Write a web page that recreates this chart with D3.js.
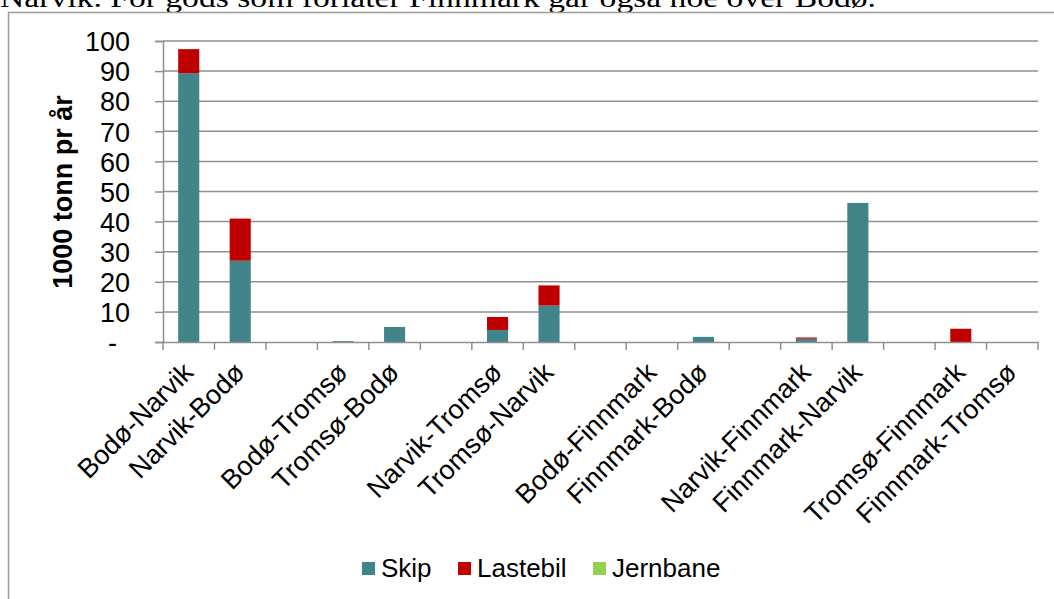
<!DOCTYPE html>
<html>
<head>
<meta charset="utf-8">
<script src="https://cdn.jsdelivr.net/npm/d3@7/dist/d3.min.js"></script>
<style>
  html, body { margin: 0; padding: 0; background: #fff; }
  svg { display: block; }
  text { font-family: "Liberation Sans", Arial, sans-serif; fill: #000; }
</style>
</head>
<body>
<svg id="chart" width="1054" height="599"></svg>
<script>
// ---- data ----
const categories = ["Bodø-Narvik", "Narvik-Bodø", "", "Bodø-Tromsø", "Tromsø-Bodø", "",
  "Narvik-Tromsø", "Tromsø-Narvik", "", "Bodø-Finnmark", "Finnmark-Bodø", "",
  "Narvik-Finnmark", "Finnmark-Narvik", "", "Tromsø-Finnmark", "Finnmark-Tromsø"];
const skip     = [89.3, 27.0, 0, 0.3, 5.0, 0, 4.0, 12.1, 0, 0, 1.7, 0, 1.1, 46.2, 0, 0, 0];
const lastebil = [8.0, 14.0, 0, 0, 0, 0, 4.3, 6.7, 0, 0, 0, 0, 0.4, 0, 0, 4.4, 0];
const jernbane = [0, 0, 0, 0, 0, 0, 0, 0, 0, 0, 0, 0, 0, 0, 0, 0, 0];
const seriesNames = ["Skip", "Lastebil", "Jernbane"];
const seriesColors = ["#418489", "#C00000", "#92D050"];
const yTicks = [0, 10, 20, 30, 40, 50, 60, 70, 80, 90, 100];
const yLabel = "1000 tonn pr år";
const headerText = "Narvik. For gods som forlater Finnmark går også noe over Bodø.";

// ---- layout ----
const svg = d3.select("#chart");
const pLeft = 163, pRight = 1038, pTop = 41, pBottom = 342;
const gridColor = "#8f8f8f";

// header text (cut off at top, as in the source page)
svg.append("text")
  .attr("x", 0).attr("y", 7)
  .attr("textLength", 876).attr("lengthAdjust", "spacingAndGlyphs")
  .style("font-family", "'Liberation Serif', 'DejaVu Serif', serif")
  .style("font-size", "27px")
  .text(headerText);

// frame
svg.append("rect")
  .attr("x", 8.5).attr("y", 12.5).attr("width", 1100).attr("height", 700)
  .attr("fill", "none").attr("stroke", "#9a9a9a").attr("stroke-width", 1.5);

const idx = categories.map((d, i) => i);
const x = d3.scaleBand().domain(idx).range([pLeft, pRight]).paddingInner(0).paddingOuter(0);
const y = d3.scaleLinear().domain([0, 100]).range([pBottom, pTop]);

// gridlines
svg.append("g").selectAll("line")
  .data(yTicks.filter(d => d > 0))
  .join("line")
  .attr("x1", pLeft).attr("x2", pRight)
  .attr("y1", d => y(d)).attr("y2", d => y(d))
  .attr("stroke", gridColor).attr("stroke-width", 1.5);

// y axis
const yAxis = d3.axisLeft(y).tickValues(yTicks).tickSize(8).tickFormat(d => d === 0 ? "-" : d);
const yg = svg.append("g").attr("transform", `translate(${pLeft},0)`).call(yAxis);
yg.select(".domain").attr("stroke", gridColor).attr("stroke-width", 1.5);
yg.selectAll(".tick line").attr("stroke", gridColor).attr("stroke-width", 1.5);
yg.selectAll(".tick text")
  .attr("x", d => d === 0 ? -46 : -33)
  .attr("dy", "0.36em")
  .attr("fill", "#000")
  .style("font-size", "27px")
  .style("font-family", "'Liberation Sans', Arial, sans-serif");

// stacked bars
const rows = idx.map(i => ({ i, Skip: skip[i], Lastebil: lastebil[i], Jernbane: jernbane[i] }));
const stack = d3.stack().keys(seriesNames)(rows);
const bw = x.bandwidth() * 0.41;
svg.append("g").selectAll("g")
  .data(stack)
  .join("g")
  .attr("fill", (d, k) => seriesColors[k])
  .selectAll("rect")
  .data(d => d.filter(s => s[1] - s[0] > 0))
  .join("rect")
  .attr("x", d => x(d.data.i) + (x.bandwidth() - bw) / 2)
  .attr("width", bw)
  .attr("y", d => y(d[1]))
  .attr("height", d => y(d[0]) - y(d[1]));

// x axis
const xAxis = d3.axisBottom(x).tickSize(0).tickFormat("");
const xg = svg.append("g").attr("transform", `translate(0,${pBottom})`).call(xAxis);
xg.select(".domain").attr("stroke", gridColor).attr("stroke-width", 1.5);
// tick marks at band boundaries
const bounds = idx.map(i => x(i)).concat([pRight]);
svg.append("g").selectAll("line")
  .data(bounds)
  .join("line")
  .attr("x1", d => d).attr("x2", d => d)
  .attr("y1", pBottom).attr("y2", pBottom + 8)
  .attr("stroke", gridColor).attr("stroke-width", 1.5);

// x labels rotated
svg.append("g").selectAll("text")
  .data(idx.filter(i => categories[i] !== ""))
  .join("text")
  .attr("transform", i => `translate(${x(i) + x.bandwidth() / 2 + 6},${pBottom + 32}) rotate(-45)`)
  .attr("text-anchor", "end")
  .style("font-size", "27px")
  .text(i => categories[i]);

// y label
svg.append("text")
  .attr("transform", `translate(72,192) rotate(-90)`)
  .attr("text-anchor", "middle")
  .style("font-size", "27px")
  .style("font-weight", "bold")
  .text(yLabel);

// legend
const legendX = [362, 458, 593];
const lg = svg.append("g");
seriesNames.forEach((name, k) => {
  lg.append("rect").attr("x", legendX[k]).attr("y", 562).attr("width", 13).attr("height", 13)
    .attr("fill", seriesColors[k]);
  lg.append("text").attr("x", legendX[k] + 19).attr("y", 577)
    .style("font-size", "26px").text(name);
});
</script>
</body>
</html>
